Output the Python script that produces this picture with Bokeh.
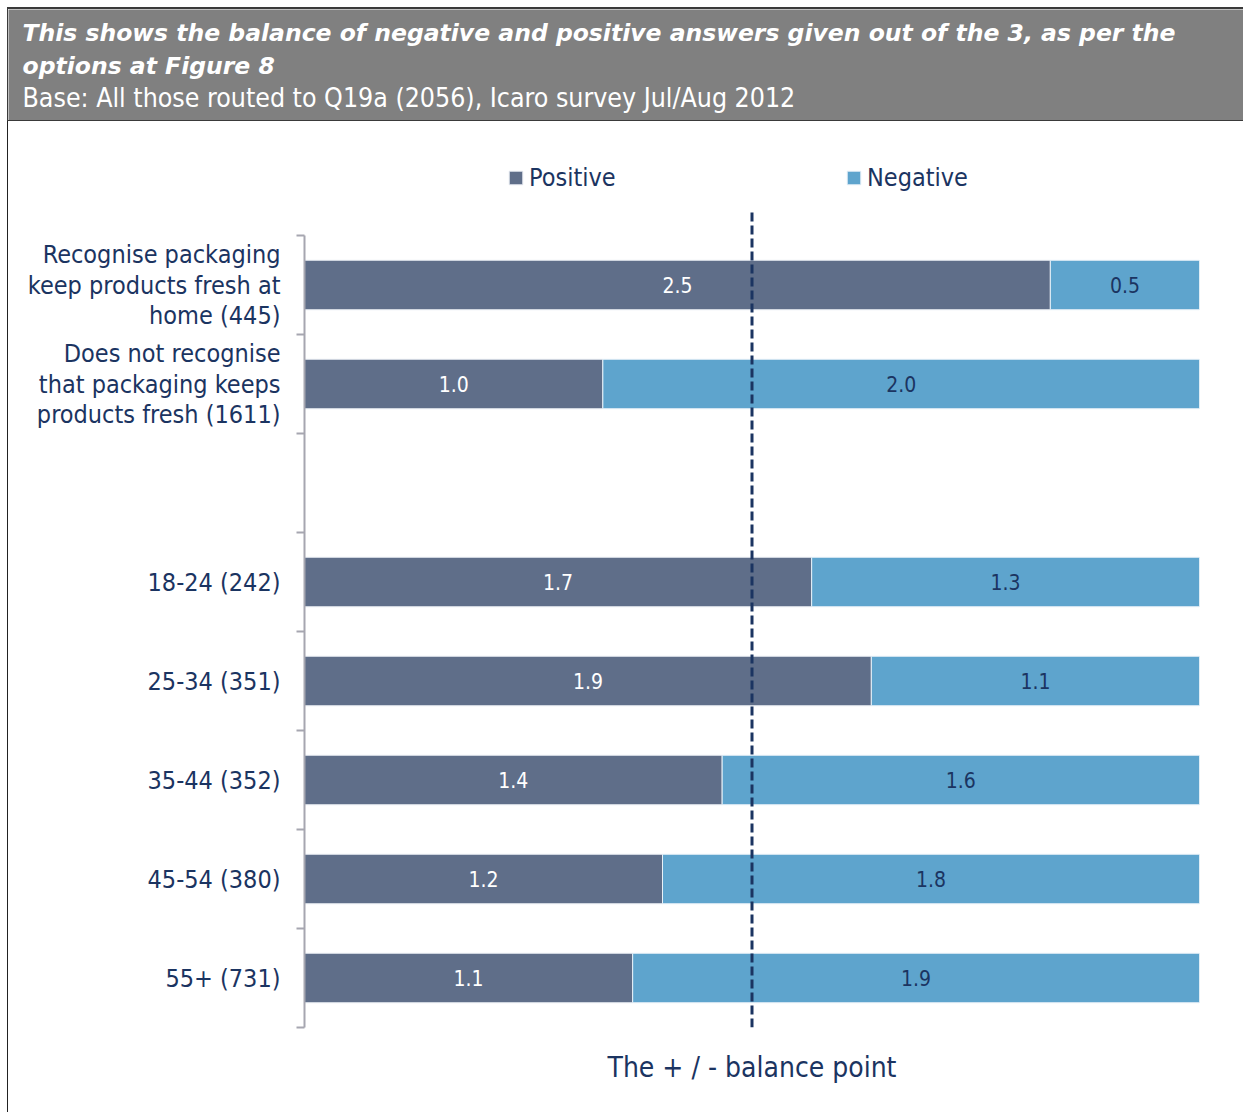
from bokeh.plotting import figure
from bokeh.models import ColumnDataSource, Range1d, FixedTicker, Legend, LegendItem
from bokeh.embed import file_html
from bokeh.resources import INLINE
from bokeh.core.properties import value

# ---- data ----
categories = [
    "Recognise packaging\nkeep products fresh at\nhome (445)",
    "Does not recognise\nthat packaging keeps\nproducts fresh (1611)",
    "",
    "18-24 (242)",
    "25-34 (351)",
    "35-44 (352)",
    "45-54 (380)",
    "55+ (731)",
]
positive = [2.5, 1.0, None, 1.7, 1.9, 1.4, 1.2, 1.1]
negative = [0.5, 2.0, None, 1.3, 1.1, 1.6, 1.8, 1.9]
series_names = ["Positive", "Negative"]
balance_point = 1.5
x_max = 3.0

title_line1 = "This shows the balance of negative and positive answers given out of the 3,  as per the"
title_line2 = "options at Figure 8"
base_line = "Base: All those routed to Q19a (2056), Icaro survey Jul/Aug 2012"
x_label = "The + / - balance point"

# ---- style ----
FONT = "DejaVu Sans Condensed"
TFONT = "DejaVu Sans"
NAVY = "#1b3461"
POS_COL = "#5f6e89"
NEG_COL = "#5ea4cd"
GRAY_AX = "#a6a6b0"
HDR_GRAY = "#808080"
W = 1236
HDR_H = 114
MAIN_H = 991
ML, MR, MT, MB = 296, 45, 29, 85

n = len(categories)
centers = [n - i - 0.5 for i in range(n)]
rows = [i for i in range(n) if positive[i] is not None]
src = ColumnDataSource(dict(
    y=[centers[i] for i in rows],
    pos_end=[positive[i] for i in rows],
    neg_end=[positive[i] + negative[i] for i in rows],
    pos_mid=[positive[i] / 2 for i in rows],
    neg_mid=[positive[i] + negative[i] / 2 for i in rows],
    pos_txt=[f"{positive[i]:.1f}" for i in rows],
    neg_txt=[f"{negative[i]:.1f}" for i in rows],
))

# ---- header (own root so its frame is not aligned with the chart) ----
hdr = figure(width=W, height=HDR_H, x_range=Range1d(0, W), y_range=Range1d(HDR_H - 3, 0),
             toolbar_location=None, output_backend="svg", min_border=0,
             background_fill_color=HDR_GRAY, border_fill_color=HDR_GRAY,
             outline_line_color=None, margin=(7, 0, 0, 7),
             styles={"border-top": "2px solid #3a3a3a", "border-bottom": "1px solid #3a3a3a",
                     "border-left": "1px solid #3a3a3a"})
hdr.axis.visible = False
hdr.grid.visible = False
hdr.text(x=[14, 14], y=[23, 55], text=[title_line1, title_line2], text_font=value(TFONT),
         text_font_size="23.5px", text_font_style="bold italic", text_color="white",
         text_baseline="alphabetic", text_align="left")
hdr.text(x=[14], y=[86], text=[base_line], text_font=value(FONT), text_font_size="26.5px",
         text_color="white", text_baseline="alphabetic", text_align="left")

# ---- main chart ----
p = figure(width=W, height=MAIN_H, x_range=Range1d(0, x_max), y_range=Range1d(0, n + 0.8586),
           toolbar_location=None, output_backend="svg",
           min_border_left=ML, min_border_right=MR, min_border_top=MT, min_border_bottom=MB,
           outline_line_color=None, background_fill_color="white", border_fill_color="white",
           margin=(0, 0, 0, 7), styles={"border-left": "1px solid #222"})
p.grid.visible = False

rp = p.hbar(y="y", left=0, right="pos_end", height=0.5, source=src,
            fill_color=POS_COL, line_color="#e8ecf2", line_width=1)
rn = p.hbar(y="y", left="pos_end", right="neg_end", height=0.5, source=src,
            fill_color=NEG_COL, line_color="#e8f1f8", line_width=1)

p.text(x="pos_mid", y="y", text="pos_txt", source=src, text_font=value(FONT),
       text_font_size="21px", text_color="white", text_align="center", text_baseline="middle")
p.text(x="neg_mid", y="y", text="neg_txt", source=src, text_font=value(FONT),
       text_font_size="21px", text_color=NAVY, text_align="center", text_baseline="middle")

p.segment(x0=[balance_point], y0=[0], x1=[balance_point], y1=[n + 0.25],
          line_color=NAVY, line_width=3, line_dash="9 4")

# y axis: labels at centers, ticks at boundaries
yax = p.yaxis[0]
yax.ticker = FixedTicker(ticks=centers, minor_ticks=[float(b) for b in range(n + 1)])
yax.major_label_overrides = {c: lab for c, lab in zip(centers, categories)}
yax.major_tick_in = 0
yax.major_tick_out = 0
yax.minor_tick_in = 0
yax.minor_tick_out = 8
yax.minor_tick_line_color = GRAY_AX
yax.minor_tick_line_width = 2
yax.axis_line_color = GRAY_AX
yax.axis_line_width = 2
yax.bounds = (0, n)
yax.major_label_standoff = 16
yax.major_label_text_font = FONT
yax.major_label_text_font_size = "25px"
yax.major_label_text_color = NAVY
yax.major_label_text_line_height = 1.05

xax = p.xaxis[0]
xax.ticker = FixedTicker(ticks=[])
xax.axis_line_color = None
xax.major_tick_line_color = None
xax.minor_tick_line_color = None
xax.axis_label = x_label
xax.axis_label_text_font = FONT
xax.axis_label_text_font_size = "28px"
xax.axis_label_text_font_style = "normal"
xax.axis_label_text_color = NAVY
xax.axis_label_standoff = 23

for rend, name, loc in [(rp, series_names[0], (203, 835)), (rn, series_names[1], (541, 835))]:
    leg = Legend(items=[LegendItem(label=name, renderers=[rend])], location=loc,
                 orientation="horizontal", padding=0, margin=0, border_line_color=None,
                 background_fill_alpha=0, glyph_width=17, glyph_height=17, label_standoff=5,
                 label_text_font=FONT, label_text_font_size="25px", label_text_color=NAVY)
    p.add_layout(leg)

open("out.html", "w").write(file_html([hdr, p], INLINE))
